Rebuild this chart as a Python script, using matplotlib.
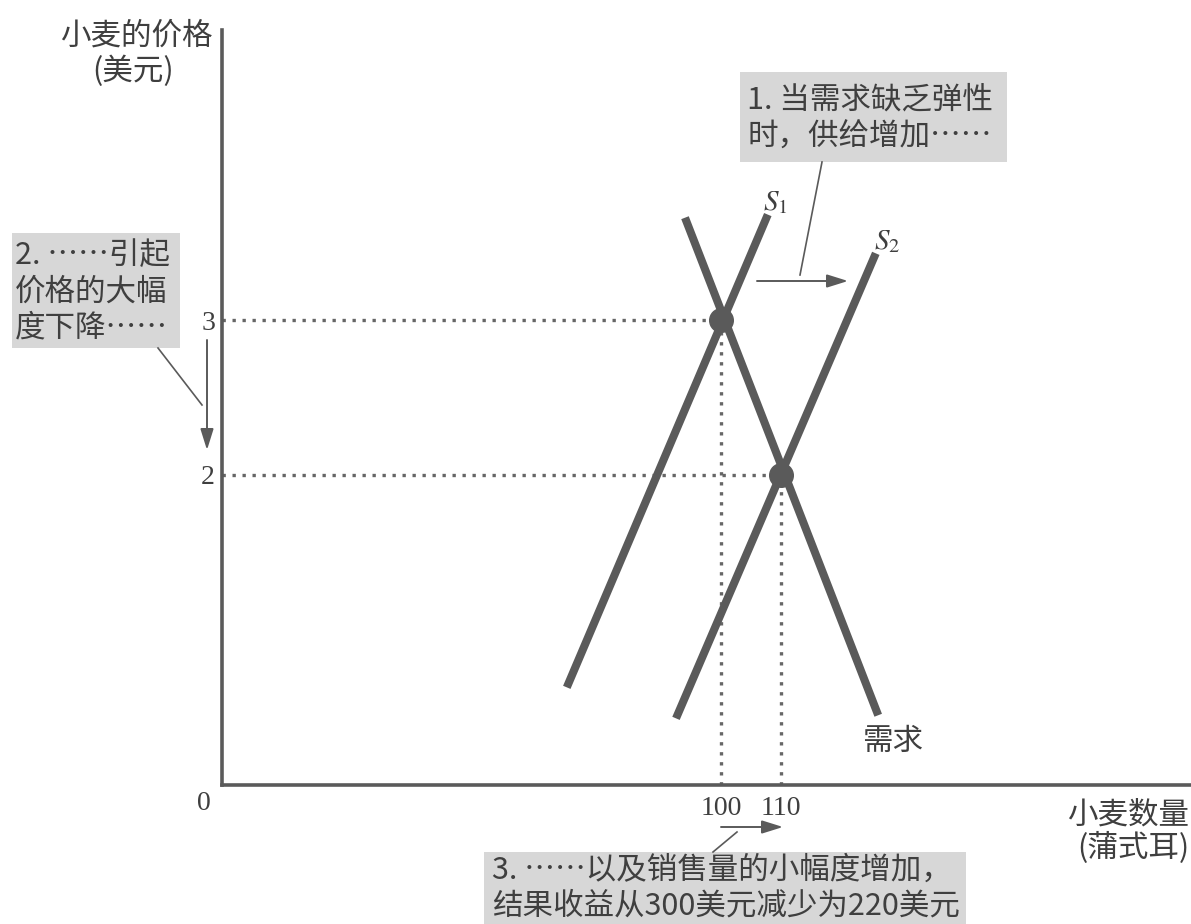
import matplotlib
matplotlib.use("Agg")
import matplotlib.pyplot as plt
from matplotlib.patches import Rectangle

plt.rcParams["font.family"] = ["Noto Sans CJK SC", "DejaVu Sans"]
plt.rcParams["mathtext.fontset"] = "stix"

# --- data (quantity in bushels, price in dollars) ---
supply1_q = [74.3, 107.8]
supply1_p = [0.63, 3.68]
supply2_q = [92.5, 125.8]
supply2_p = [0.43, 3.43]
demand_q = [94.0, 126.2]
demand_p = [3.66, 0.45]
eq_q = [100, 110]
eq_p = [3, 2]
q_ticks = [100, 110]
p_ticks = [2, 3]

y_title = ["小麦的价格", "(美元)"]
x_title = ["小麦数量", "(蒲式耳)"]
note1 = ["1. 当需求缺乏弹性", "时，供给增加……"]
note2 = ["2. ……引起", "价格的大幅", "度下降……"]
note3 = ["3. ……以及销售量的小幅度增加，", "结果收益从300美元减少为220美元"]

W, H = 1191, 924
INK = "#3f3f3f"
LINE = "#5a5a5a"
BOX = "#d7d7d7"
CJK = 22
NUM = 20

fig = plt.figure(figsize=(W / 100, H / 100), dpi=100)

# main axes, origin at pixel (222, 785); diagram is not drawn to scale from 0
x0, y0, x1, y1 = 222, 785, 1191, 30
ax = fig.add_axes([x0 / W, 1 - y0 / H, (x1 - x0) / W, (y0 - y1) / H])
ax.set_xlim(100 + (x0 - 721) / 6, 100 + (x1 - 721) / 6)
ax.set_ylim(0, (y0 - y1) / 155)
ax.patch.set_alpha(0)
for side in ["top", "right"]:
    ax.spines[side].set_visible(False)
for side in ["left", "bottom"]:
    ax.spines[side].set_linewidth(2.6)
    ax.spines[side].set_color(LINE)

# guide lines
xmin = ax.get_xlim()[0]
for q, p in zip(eq_q, eq_p):
    ax.plot([xmin, q], [p, p], color="#666666", lw=2.4, ls=(0, (1, 2)), zorder=1)
    ax.plot([q, q], [0, p], color="#666666", lw=2.4, ls=(0, (1, 2)), zorder=1)

# curves
for qs, ps in [(supply1_q, supply1_p), (supply2_q, supply2_p), (demand_q, demand_p)]:
    ax.plot(qs, ps, color=LINE, lw=5.8, solid_capstyle="butt", zorder=2)
ax.plot(eq_q, eq_p, "o", ms=17, color=LINE, zorder=3)

ax.annotate(r"$S_1$", xy=(supply1_q[1], supply1_p[1]), xytext=(8, 13),
            textcoords="offset pixels", ha="center", va="center", fontsize=21, color=INK)
ax.annotate(r"$S_2$", xy=(supply2_q[1], supply2_p[1]), xytext=(11, 12),
            textcoords="offset pixels", ha="center", va="center", fontsize=21, color=INK)
ax.annotate("需求", xy=(demand_q[1], demand_p[1]), xytext=(14, -26),
            textcoords="offset pixels", ha="center", va="center", fontsize=CJK, color=INK)

# ticks
ax.set_xticks(q_ticks)
ax.set_xticklabels([str(v) for v in q_ticks])
ax.set_yticks(p_ticks)
ax.set_yticklabels([str(v) for v in p_ticks])
ax.tick_params(length=0, labelsize=NUM, labelcolor=INK)
ax.tick_params(axis="x", pad=8)
ax.tick_params(axis="y", pad=5)
for lab in ax.get_xticklabels() + ax.get_yticklabels():
    lab.set_fontfamily("Liberation Serif")

# overlay in pixel coordinates for notes
ov = fig.add_axes([0, 0, 1, 1])
ov.set_xlim(0, W)
ov.set_ylim(H, 0)
ov.axis("off")
ov.patch.set_alpha(0)

ov.text(204, 803, "0", ha="center", va="center", fontsize=NUM, color=INK,
        family="Liberation Serif")

for text, (x, y) in zip(y_title, [(136, 36), (133, 71)]):
    ov.text(x, y, text, ha="center", va="center", fontsize=CJK, color=INK)
for text, y in zip(x_title, [815, 848]):
    ov.text(1189, y, text, ha="right", va="center", fontsize=CJK, color=INK)

ov.add_patch(Rectangle((740, 72), 267, 90, fc=BOX, ec="none"))
for text, y in zip(note1, [100, 136]):
    ov.text(747, y, text, ha="left", va="center", fontsize=CJK, color=INK)

ov.add_patch(Rectangle((12, 233), 168, 115, fc=BOX, ec="none"))
for text, y in zip(note2, [255, 292, 328]):
    ov.text(15, y, text, ha="left", va="center", fontsize=CJK, color=INK)

ov.add_patch(Rectangle((484, 852), 482, 80, fc=BOX, ec="none"))
for text, y in zip(note3, [870, 906]):
    ov.text(492, y, text, ha="left", va="center", fontsize=CJK, color=INK)

# leaders and arrows
for (xa, ya), (xb, yb) in [((822, 162), (800, 275)), ((158, 348), (202, 405)),
                           ((737, 832), (713, 852))]:
    ov.plot([xa, xb], [ya, yb], color=LINE, lw=1.2)

arrow = dict(arrowstyle="-|>,head_length=0.8,head_width=0.25", color=LINE, lw=1.4,
             mutation_scale=16, shrinkA=0, shrinkB=0)
ov.annotate("", xy=(848, 281), xytext=(757, 281), arrowprops=arrow)
ov.annotate("", xy=(207, 450), xytext=(207, 340), arrowprops=arrow)
ov.annotate("", xy=(783, 827), xytext=(721, 827), arrowprops=arrow)

fig.savefig("out.png", dpi=100)
